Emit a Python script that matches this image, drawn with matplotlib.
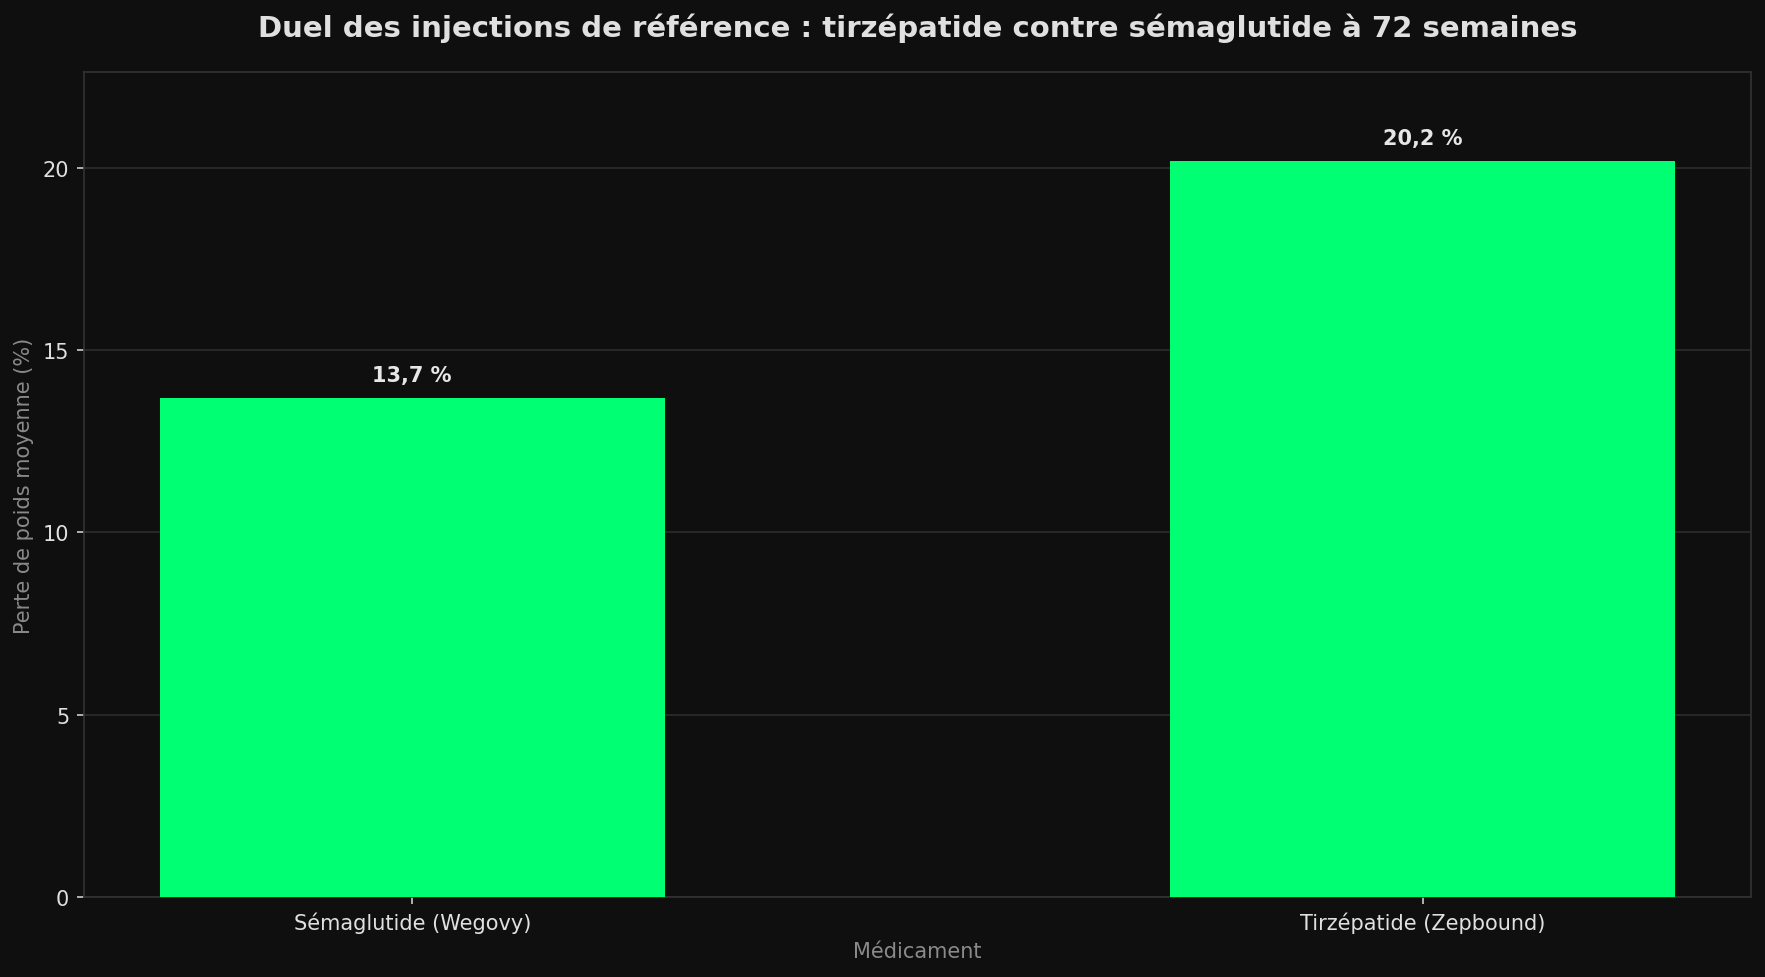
import matplotlib
matplotlib.use("Agg")
import matplotlib.pyplot as plt

# data
medicaments = ["Sémaglutide (Wegovy)", "Tirzépatide (Zepbound)"]
perte_poids = [13.7, 20.2]
etiquettes = ["13,7 %", "20,2 %"]

bg = "#0f0f0f"
vert = "#00ff73"

fig, ax = plt.subplots(figsize=(11.773, 6.52), dpi=150)
fig.patch.set_facecolor(bg)
ax.set_facecolor(bg)

x = range(len(medicaments))
bars = ax.bar(x, perte_poids, width=0.5, color=vert, zorder=3)

for b, lab in zip(bars, etiquettes):
    ax.annotate(lab, (b.get_x() + b.get_width() / 2, b.get_height()),
                xytext=(0, 6), textcoords="offset points",
                ha="center", va="bottom", fontsize=10, fontweight="bold",
                color="#e6e6e6")

ax.set_xticks(list(x))
ax.set_xticklabels(medicaments)
ax.set_ylim(0, max(perte_poids) * 1.12)
ax.set_yticks([0, 5, 10, 15, 20])

ax.set_title("Duel des injections de référence : tirzépatide contre sémaglutide à 72 semaines",
             fontsize=14, fontweight="bold", color="#e0e0e0", pad=17.5)
ax.set_xlabel("Médicament", color="#8a8a8a", fontsize=10)
ax.set_ylabel("Perte de poids moyenne (%)", color="#8a8a8a", fontsize=10)

ax.tick_params(colors="#cccccc", labelcolor="#e0e0e0", labelsize=10)
ax.grid(axis="y", color="#2c2c2c", linewidth=0.8, zorder=0)
ax.set_axisbelow(True)
for s in ax.spines.values():
    s.set_color("#333333")
    s.set_linewidth(0.8)

fig.subplots_adjust(left=0.0475, right=0.9915, top=0.925, bottom=0.082)
fig.savefig("out.png", dpi=150, facecolor=bg)
